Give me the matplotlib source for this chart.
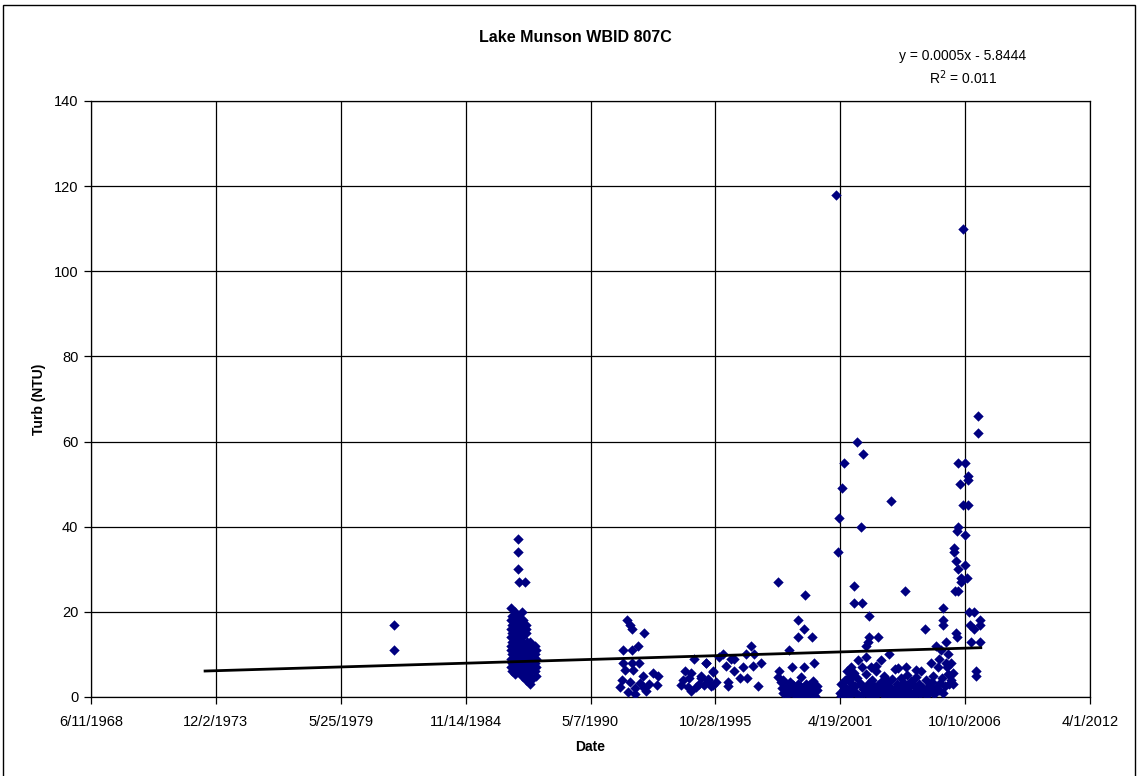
from datetime import datetime, timedelta

import matplotlib
matplotlib.use("Agg")
import matplotlib.pyplot as plt
from matplotlib.ticker import FuncFormatter, MultipleLocator
from matplotlib.patches import Rectangle


plt.rcParams["font.family"] = ["Liberation Sans", "DejaVu Sans"]

# dates are Excel serial day numbers
dates_1981 = [29857, 29857]
turb_1981 = [17, 11]

dates_1986 = [
    31845, 31845, 31845, 31850, 31957,
    31730, 31735, 31728, 31740, 31732, 31738, 31726, 31742, 31734, 31729, 31741, 31733, 31737, 31727, 31739,
    31785, 31792, 31788, 31798, 31782, 31790, 31795, 31787, 31800, 31784, 31792, 31789, 31797, 31785, 31793,
    31845, 31852, 31848, 31855, 31842, 31850, 31846, 31854, 31840, 31851, 31847, 31843,
    31905, 31912, 31908, 31915, 31902, 31910, 31906, 31914, 31900, 31911, 31907, 31903, 31913, 31909,
    31965, 31972, 31968, 31975, 31962, 31970, 31966, 31974, 31960, 31971, 31967, 31963, 31973,
    32035, 32042, 32038, 32045, 32032, 32040, 32036, 32044, 32030, 32041, 32037,
    32115, 32122, 32118, 32125, 32112, 32120, 32116, 32124,
]
turb_1986 = [
    37, 34, 30, 27, 27,
    21, 19, 18, 17, 16, 15, 14, 13, 12, 11, 10, 9, 8, 7, 6,
    20, 18, 17, 16, 15, 14, 13, 12, 11, 10, 9, 8, 7, 6, 5.5,
    19, 17, 15, 14, 13, 12, 11, 10, 9, 8, 7, 6,
    20, 18, 16, 15, 14, 13, 12, 11, 10, 9, 8, 7, 6, 5,
    17, 16, 15, 13, 12, 11, 10, 9, 8, 7, 6, 5, 4,
    13, 12, 11, 10, 9, 8, 7, 6, 5, 4, 3,
    12, 11, 10, 9, 8, 7, 6, 5,
]

dates_1991 = [
    33592, 33640, 33672, 33849, 33768, 33528, 33672, 33528, 33672, 33784,
    33560, 33688, 34009, 33833, 34089, 33512, 33640, 33800, 34073, 33480,
    33720, 33849, 33720, 33608, 33929, 33881,
    34650, 34842, 34602, 34955, 34474, 34570, 34762, 34874, 34442, 34554,
    34682, 34810, 34923, 34602, 34730, 35003, 34506,
]
turb_1991 = [
    18, 17, 16, 15, 12, 11, 11, 8, 8, 8,
    6.3, 6.3, 5.6, 5, 5, 4, 3.5, 3.3, 2.8, 2.4,
    2, 2, 0.7, 1.2, 3, 1.5,
    9, 8, 5.6, 5.8, 4, 4.5, 4.5, 4, 2.8, 2.3,
    2.3, 2.8, 2.5, 1.5, 3, 3.5, 6,
]

dates_1996 = [
    35997, 36429, 36317, 36413, 36317, 36542, 36173, 35564, 35115, 35484,
    35612, 35291, 35243, 35163, 35436, 35596, 34842, 34955, 35291, 35387,
    35500, 34762, 34874, 34955, 35195, 35676, 35195, 36221, 36413, 36574,
    36013, 36365, 35997, 36045, 35051, 35724,
    36060, 36090, 36120, 36150, 36180, 36210, 36240, 36270, 36300, 36330,
    36360, 36390, 36420, 36450, 36480, 36510, 36540, 36570, 36600, 36630,
    36080, 36140, 36200, 36260, 36320, 36380, 36440, 36500, 36560, 36620,
]
turb_1996 = [
    27, 24, 18, 16, 14, 14, 11, 12, 10, 10,
    10, 9, 9, 7.3, 7, 7.3, 8, 6, 6, 4.5,
    4.5, 5, 4.3, 2.8, 2.5, 2.5, 3.5, 7, 7, 8,
    6, 4.8, 4.8, 3.5, 9.5, 8,
    2, 1, 3, 0.5, 2, 1.2, 2.8, 0.4, 1.8, 1,
    2.5, 0.2, 1.5, 3, 0.7, 2, 1.3, 3.8, 0.3, 1.6,
    4, 1.8, 3.5, 2, 3, 1.5, 0.8, 2.8, 0.5, 2.6,
]

dates_2001 = [
    36926, 37263, 37359, 37055, 37023, 37808, 36974, 37327, 36958, 37215,
    37215, 37343, 38032, 37455, 37455, 37600, 37439, 37407, 37776, 37407,
    37279, 37648, 37167, 37487, 37568, 37135, 37215, 37920, 38048, 38209,
    37000, 37020, 37045, 37070, 37090, 37110, 37135, 37160, 37180, 37205,
    37230, 37250, 37275, 37300, 37320, 37345, 37370, 37390, 37415, 37440,
    37460, 37485, 37510, 37530, 37555, 37580, 37600, 37625, 37650, 37670,
    37695, 37720, 37740, 37765, 37790, 37810, 37835, 37860, 37880, 37905,
    37930, 37950, 37975, 38000, 38020, 38045, 38070, 38090, 38115, 38140,
    38160, 38185, 38210, 38230, 38255, 38280, 38300, 38325, 38350, 38370,
    38395, 38420, 38440, 38465, 38490, 38510, 38535, 38560, 38580, 38605,
    38630, 38650, 38675, 38700, 38720, 38745,
    37010, 37060, 37120, 37170, 37220, 37280, 37330, 37380, 37430, 37480,
    37540, 37590, 37640, 37700, 37750, 37800, 37850, 37900, 37960, 38010,
    38060, 38110, 38170, 38220, 38270, 38320, 38380, 38430, 38480, 38530,
]
turb_2001 = [
    118, 60, 57, 55, 49, 46, 42, 40, 34, 26,
    22, 22, 25, 19, 14, 14, 13, 12, 10, 9.4,
    8.7, 8.7, 7, 7, 7.3, 4.8, 5.6, 6.8, 7, 6.4,
    1, 3, 0.5, 4, 2, 6, 1.5, 3.5, 0.8, 5,
    2.5, 1, 4.5, 0.3, 3, 7, 1.8, 2.2, 5.5, 0.6,
    3.2, 1.2, 4, 2, 0.4, 6, 2.8, 1.4, 3.6, 0.9,
    5, 2.4, 1, 3.8, 0.5, 2, 4.2, 1.6, 6.5, 3,
    0.7, 2.6, 4.4, 1.2, 3.4, 0.3, 5.2, 2, 1, 3.8,
    0.5, 2.8, 4.6, 1.5, 3, 0.8, 6.2, 2.2, 1.1, 4,
    0.4, 2.5, 1.3, 3.5, 5, 0.9, 2.1, 7, 1.6, 3.2,
    4.5, 1, 2.6, 8, 5.5, 3,
    0.2, 1.8, 0.6, 2.4, 1.1, 0.4, 3, 0.9, 1.6, 0.2,
    2.6, 0.7, 1.9, 0.5, 3.3, 1.2, 0.3, 2.1, 0.8, 1.5,
    0.4, 2.9, 1, 0.6, 2.3, 1.7, 0.5, 3.1, 0.9, 2,
]

dates_2006 = [
    38962, 39203, 39203, 38882, 38994, 39042, 39042, 38914, 38962, 39042,
    38882, 38866, 38994, 38818, 38818, 38850, 38994, 38882, 38930, 39026,
    38930, 38882, 38834, 38642, 38642, 38642, 39058, 39138, 39235, 39074,
    39138, 39235, 38353, 38850, 38866, 38690, 39090, 39235, 38529, 38722,
    38449, 39171, 39171, 38770, 38802, 38770, 38802, 38609, 38577, 38706,
]
turb_2006 = [
    110, 66, 62, 55, 55, 52, 51, 50, 45, 45,
    40, 39, 38, 35, 34, 32, 31, 30, 28, 28,
    27, 25, 25, 21, 18, 17, 20, 20, 18, 17,
    16, 17, 16, 15, 14, 13, 13, 13, 12, 10,
    8, 6, 5, 8, 5.6, 4, 3, 11, 9, 7,
]

# linear trend as drawn by Excel
trend_start = 26827
trend_end = 39251
trend_slope = 0.000441
trend_intercept = -5.73

x_ticks = [25000, 27000, 29000, 31000, 33000, 35000, 37000, 39000, 41000]

dates = dates_1981 + dates_1986 + dates_1991 + dates_1996 + dates_2001 + dates_2006
turb = turb_1981 + turb_1986 + turb_1991 + turb_1996 + turb_2001 + turb_2006


def serial_to_label(x, pos=None):
    d = datetime(1899, 12, 30) + timedelta(days=int(round(x)))
    return f"{d.month}/{d.day}/{d.year}"


fig = plt.figure(figsize=(11.37, 7.76), dpi=100)

ax = fig.add_axes([91 / 1137, 1 - 697 / 776, 999 / 1137, 596 / 776])

ax.scatter(
    dates,
    turb,
    marker="D",
    s=28,
    color="#000080",
    linewidths=0,
    zorder=3
)

trend_x = [trend_start, trend_end]
trend_y = [trend_slope * x + trend_intercept for x in trend_x]

ax.plot(trend_x, trend_y, color="black", linewidth=2, zorder=4)

ax.set_xlim(25000, 41000)
ax.set_ylim(0, 140)

ax.set_xticks(x_ticks)
ax.xaxis.set_major_formatter(FuncFormatter(serial_to_label))
ax.yaxis.set_major_locator(MultipleLocator(20))

ax.grid(True, color="black", linewidth=0.9)
ax.set_axisbelow(True)

for spine in ax.spines.values():
    spine.set_color("black")
    spine.set_linewidth(0.9)

ax.tick_params(
    direction="out",
    length=5,
    width=0.9,
    color="black",
    labelsize=10.5,
    pad=4
)
ax.tick_params(axis="x", pad=8)

ax.set_xlabel("Date", fontsize=10, fontweight="bold", labelpad=8)
ax.set_ylabel("Turb (NTU)", fontsize=10, fontweight="bold", labelpad=6)

fig.text(
    575 / 1137, 1 - 38 / 776,
    "Lake Munson WBID 807C",
    ha="center", va="center",
    fontsize=11.5, fontweight="bold"
)

fig.text(
    963 / 1137, 1 - 56 / 776,
    "y = 0.0005x - 5.8444",
    ha="center", va="center",
    fontsize=10
)

fig.text(
    963 / 1137, 1 - 78 / 776,
    "R$^2$ = 0.011",
    ha="center", va="center",
    fontsize=10
)

fig.patches.append(
    Rectangle(
        (3 / 1137, -0.01),
        1132 / 1137, 1 - 5 / 776 + 0.01,
        transform=fig.transFigure,
        fill=False,
        edgecolor="black",
        linewidth=1
    )
)

fig.savefig("out.png", dpi=100)
